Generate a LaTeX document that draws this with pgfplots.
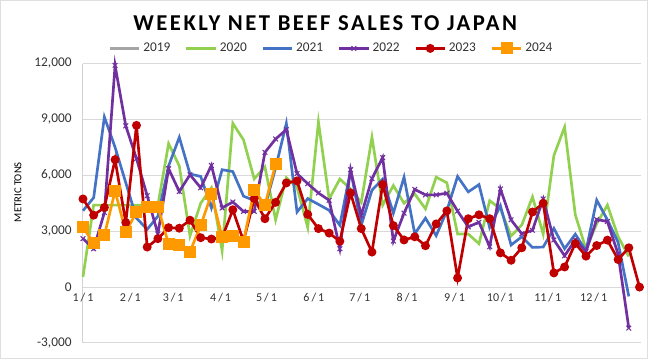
\documentclass[border=0pt]{standalone}
\usepackage{pgfplots}
\pgfplotsset{compat=1.18}
\usepackage{pgfplotstable}
\usepackage{fontspec}
\setmainfont{Carlito}
\definecolor{c19}{RGB}{165,165,165}
\definecolor{c20}{RGB}{146,208,80}
\definecolor{c21}{RGB}{68,114,196}
\definecolor{c22}{RGB}{112,48,160}
\definecolor{c23}{RGB}{192,0,0}
\definecolor{c24}{RGB}{255,153,0}

\pgfplotstableread{
k v
0 550
1 4400
2 4400
3 4400
4 4400
5 4400
6 4400
7 4400
8 7700
9 6500
10 2750
11 4500
12 5330
13 1950
14 8790
15 7900
16 5810
17 6450
18 3610
19 5870
20 5360
21 3200
22 8860
23 4730
24 5800
25 5270
26 4540
27 8040
28 4400
29 5450
30 4500
31 5000
32 4200
33 5900
34 5600
35 2850
36 2850
37 2330
38 4640
39 4200
40 2750
41 3330
42 4840
43 2850
44 7060
45 8590
46 3880
47 2040
48 3400
49 4400
50 2710
51 1640
}\dtwenty

\pgfplotstableread{
k v
0 4100
1 4800
2 9130
3 7500
4 5600
5 3700
6 3100
7 3800
8 6500
9 8040
10 6070
11 5940
12 4250
13 6300
14 6200
15 4880
16 4650
17 4300
18 6400
19 8780
20 4030
21 4750
22 4440
23 4120
24 3320
25 6270
26 3320
27 5200
28 5800
29 3970
30 5900
31 2860
32 3700
33 2760
34 4100
35 5940
36 5110
37 5500
38 3200
39 4370
40 2260
41 2700
42 2130
43 2150
44 3150
45 2060
46 2840
47 1950
48 4670
49 3610
50 2400
51 -500
}\dtwentyone

\pgfplotstableread{
k v
0 2600
1 2060
2 4000
3 11900
4 8650
5 6900
6 4900
7 2850
8 6350
9 5130
10 6030
11 5330
12 6530
13 4250
14 4570
15 4060
16 4060
17 7230
18 7950
19 8450
20 6090
21 5550
22 5050
23 4660
24 2060
25 6300
26 3850
27 5820
28 6950
29 2470
30 3970
31 5240
32 4950
33 4950
34 5040
35 4080
36 3230
37 3480
38 2170
39 5270
40 3610
41 2860
42 3050
43 4730
44 2530
45 1680
46 2530
47 1900
48 3630
49 3520
50 1770
51 -2200
}\dtwentytwo

\pgfplotstableread{
k v
0 4730
1 3860
2 4270
3 6840
4 3460
5 8680
6 2150
7 2600
8 3190
9 3160
10 3590
11 2650
12 2580
13 2650
14 4150
15 2470
16 4750
17 3670
18 4550
19 5590
20 5700
21 3900
22 3140
23 2900
24 2460
25 5050
26 3140
27 1880
28 5500
29 3300
30 2530
31 2700
32 2220
33 3390
34 4090
35 490
36 3670
37 3880
38 3670
39 1840
40 1440
41 2110
42 4030
43 4500
44 760
45 1080
46 2340
47 1660
48 2230
49 2520
50 1480
51 2110
52 0
}\dtwentythree

\pgfplotstableread{
k v
0 3200
1 2370
2 2780
3 5160
4 2950
5 4030
6 4320
7 4320
8 2300
9 2250
10 1900
11 3310
12 4980
13 2690
14 2760
15 2440
16 5210
17 4400
18 6600
}\dtwentyfour

\begin{document}
\begin{tikzpicture}
\draw[gray!25, line width=0.75pt] (0.4pt,0.4pt) rectangle (485.6pt,268.85pt);
\begin{axis}[
  at={(62.25pt,12pt)}, anchor=south west,
  scale only axis, width=418.5pt, height=209.6pt,
  xmin=0, xmax=365, ymin=-3000, ymax=12000,
  axis x line=bottom, axis y line=left,
  x axis line style={draw=none},
  y axis line style={draw=gray!35, line width=0.75pt, -},
  major tick length=0pt,
  scaled y ticks=false,
  ytick={-3000,0,3000,6000,9000,12000},
  ymajorgrids, grid style={gray!30, line width=0.75pt},
  xtick={0,31,59,90,120,151,181,212,243,273,304,334},
  xticklabels={1\,/\,1,2\,/\,1,3\,/\,1,4\,/\,1,5\,/\,1,6\,/\,1,7\,/\,1,8\,/\,1,9\,/\,1,10\,/\,1,11\,/\,1,12\,/\,1},
  xticklabel style={font=\fontsize{9}{10}\selectfont, text=black!80, yshift=40.9pt},
  yticklabel style={font=\fontsize{10}{12}\selectfont, text=black!80, xshift=-5pt},
  /pgf/number format/.cd, 1000 sep={,}, assume math mode=true,
  /pgfplots/.cd,
  ylabel={METRIC TONS},
  ylabel style={at={(axis description cs:-0.1165,0.54)}, anchor=center, font=\fontsize{8}{10}\selectfont},
  legend style={at={(axis description cs:0.446,1.054)}, anchor=center, legend columns=6, draw=none, fill=none,
    font=\fontsize{10}{12}\selectfont, text=black!80,
    /tikz/every even column/.append style={column sep=9pt}},
  legend image code/.code={\draw[mark repeat=2,mark phase=2,#1] plot coordinates {(0pt,0pt) (11pt,0pt) (22pt,0pt)};},
  title={WEEKLY NET BEEF SALES TO JAPAN},
  title style={at={(axis description cs:0.434,1.117)}, anchor=center, font=\bfseries\fontsize{17}{20}\selectfont\addfontfeature{LetterSpace=11}},
  clip=false,
]
\addlegendimage{c19, line width=2pt}
\addlegendentry{2019}
\addplot[c20, line width=2pt] table[x expr=\thisrow{k}*7, y=v] {\dtwenty};
\addlegendentry{2020}
\addplot[c21, line width=2pt] table[x expr=\thisrow{k}*7, y=v] {\dtwentyone};
\addlegendentry{2021}
\addplot[c22, line width=2pt, mark=x, mark size=2.5pt, mark options={line width=0.8pt}] table[x expr=\thisrow{k}*7, y=v] {\dtwentytwo};
\addlegendentry{2022}
\addplot[c23, line width=2pt, mark=*, mark size=2.3pt] table[x expr=\thisrow{k}*7, y=v] {\dtwentythree};
\addlegendentry{2023}
\addplot[c24, line width=2pt, mark=square*, mark size=3.5pt] table[x expr=\thisrow{k}*7, y=v] {\dtwentyfour};
\addlegendentry{2024}
\end{axis}
\end{tikzpicture}
\end{document}
